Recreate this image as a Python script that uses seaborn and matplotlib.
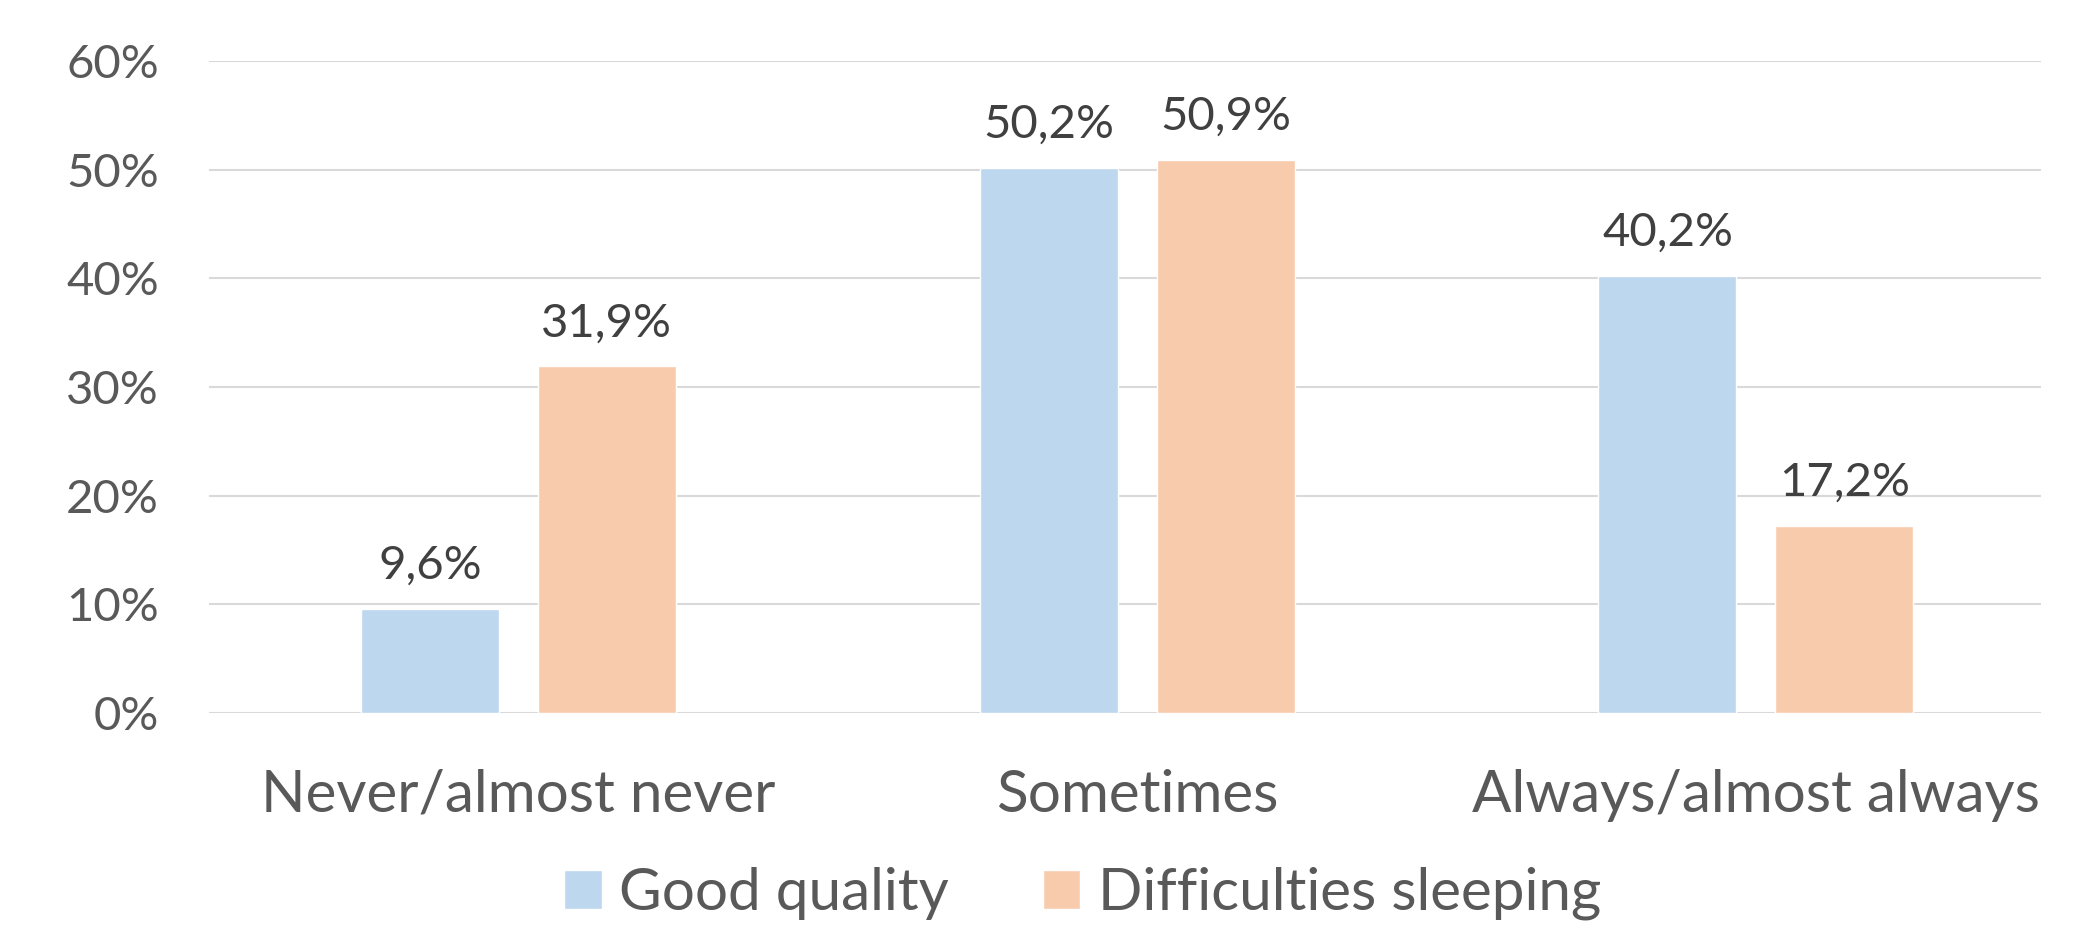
import matplotlib
matplotlib.use("Agg")
import matplotlib.pyplot as plt
import seaborn as sns
import pandas as pd

categories = ["Never/almost never", "Sometimes", "Always/almost always"]
series_names = ["Good quality", "Difficulties sleeping"]
good_quality = [9.6, 50.2, 40.2]
difficulties_sleeping = [31.9, 50.9, 17.2]
y_ticks = [0, 10, 20, 30, 40, 50, 60]
colors = ["#BDD7EE", "#F8CBAD"]

df = pd.DataFrame({
    "category": categories * 2,
    "series": [series_names[0]] * 3 + [series_names[1]] * 3,
    "value": good_quality + difficulties_sleeping,
})

sns.set_theme(style="white")
plt.rcParams["font.family"] = ["Lato", "DejaVu Sans"]

fig = plt.figure(figsize=(20.78, 9.27), dpi=100)
ax = fig.add_axes([0.1006, 0.2309, 0.8814, 0.7031])

sns.barplot(data=df, x="category", y="value", hue="series", order=categories,
            hue_order=series_names, palette=colors, width=0.572, gap=0.22,
            saturation=1, errorbar=None, ax=ax, legend=True)

for cont in ax.containers:
    labels = [f"{v:.1f}%".replace(".", ",") for v in cont.datavalues]
    ax.bar_label(cont, labels=labels, padding=16, fontsize=34, color="#404040")

ax.set_ylim(0, 60)
ax.set_xlim(-0.5, 2.46)
ax.set_yticks(y_ticks)
ax.set_yticklabels([f"{t}%" for t in y_ticks])
ax.yaxis.grid(True, color="#D9D9D9", linewidth=1.5)
ax.set_axisbelow(True)
for s in ax.spines.values():
    s.set_visible(False)
ax.tick_params(axis="y", length=0, pad=36, labelsize=34, labelcolor="#595959")
ax.tick_params(axis="x", length=0, pad=40, labelsize=42, labelcolor="#595959")
ax.set_xlabel("")
ax.set_ylabel("")

handles, labs = ax.get_legend_handles_labels()
ax.get_legend().remove()
fig.legend(handles, labs, loc="center", bbox_to_anchor=(0.521, 0.036), ncol=2,
           frameon=False, fontsize=42, labelcolor="#595959", handlelength=0.65,
           handleheight=0.65, handletextpad=0.3, columnspacing=1.6)

fig.savefig("out.png", dpi=100)
